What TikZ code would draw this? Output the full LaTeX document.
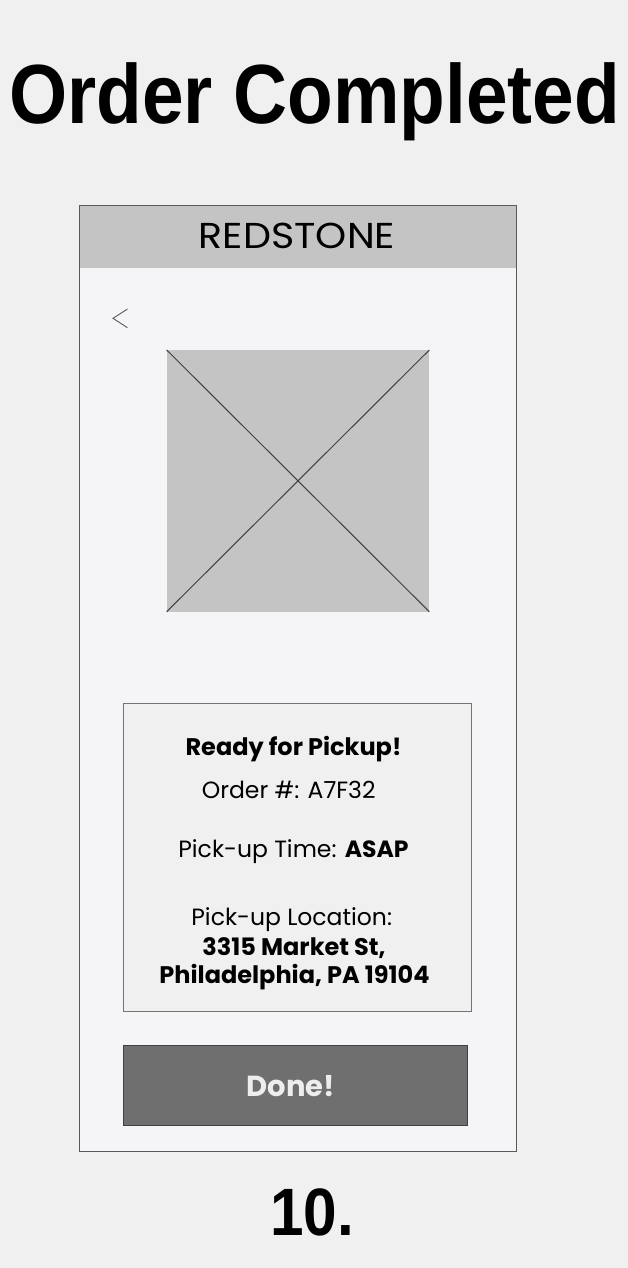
\documentclass[tikz,border=0pt]{standalone}
\usepackage{fontspec}
\usepackage{graphicx}
\usetikzlibrary{positioning}
\newfontfamily\titlefont{Liberation Sans}
\newfontfamily\uifont{Poppins}
\definecolor{pagebg}{HTML}{F0F0F0}
\definecolor{screenbg}{HTML}{F5F5F7}
\definecolor{barfill}{HTML}{C4C4C4}
\definecolor{btnfill}{HTML}{6F6F6F}
\definecolor{edge}{HTML}{5A5A5A}

\tikzset{
  heading/.style={anchor=base, inner sep=0pt, font=\titlefont\bfseries},
  uitext/.style={anchor=base, inner sep=0pt, font=\uifont\fontsize{23.5}{28}\selectfont},
  uibold/.style={uitext, font=\uifont\bfseries\fontsize{24}{28}\selectfont},
  panel/.style={draw=edge, line width=1pt}
}

\begin{document}
\begin{tikzpicture}[x=1pt, y=-1pt]
    \fill[pagebg] (0,0) rectangle (628,1268);
    \useasboundingbox (0,0) rectangle (628,1268);

    % phone screen
    \fill[screenbg] (79.5,205) rectangle (516.5,1151.5);
    \fill[barfill] (79.5,205) rectangle (516.5,268);
    \draw[panel] (79.5,205) rectangle (516.5,1151.5);
    \node[uitext, font=\uifont\fontsize{36}{40}\selectfont] (brand) at (297,248) {\scalebox{1.1}[1]{REDSTONE}};

    % back arrow
    \draw[line width=0.9pt, edge] (127.5,309) -- (113,318.3) -- (127.5,327.7);

    % image placeholder
    \fill[barfill] (166.7,350) rectangle (429.3,611.7);
    \draw[line width=1pt, black!75] (166.7,350) -- (429.3,611.7);
    \draw[line width=1pt, black!75] (166.7,611.7) -- (429.3,350);

    % order details
    \draw[panel, fill=pagebg, draw=black!55] (123.5,703.5) rectangle (471.5,1011.5);
    \node[uibold] (ready) at (293.5,755) {Ready for Pickup!};
    \node[uitext] (number) at (288.7,798) {Order \#: A7F32};
    \node[uitext] (time) at (293.5,857) {Pick-up Time: \textbf{ASAP}};
    \node[uitext] (place) at (291.7,925) {Pick-up Location:};
    \node[uibold] (street) at (294,955.7) {3315 Market St,};
    \node[uibold] (city) at (294.5,983) {Philadelphia, PA 19104};

    % done button
    \draw[panel, fill=btnfill, draw=black!75] (123.5,1045.5) rectangle (467.5,1125.5);
    \node[uibold, font=\uifont\bfseries\fontsize{29}{32}\selectfont, text=black!7] (done) at (290.7,1096) {Done!};

    % headings
    \node[heading, font=\titlefont\bfseries\fontsize{84}{90}\selectfont] (title) at (314.5,124) {\scalebox{0.89}[1]{Order Completed}};
    \node[heading, font=\titlefont\bfseries\fontsize{67}{72}\selectfont] (step) at (312,1235) {\scalebox{0.9}[1]{10.}};
\end{tikzpicture}
\end{document}
